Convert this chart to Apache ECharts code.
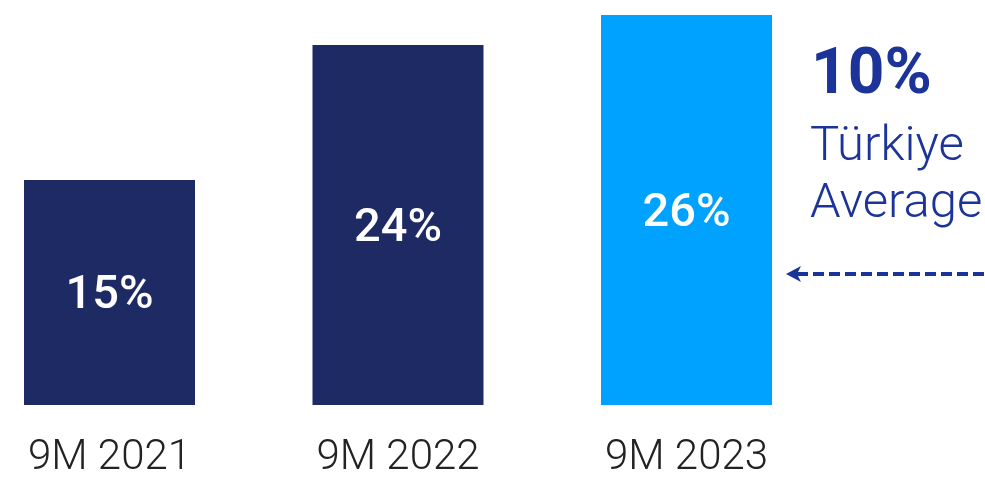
<!DOCTYPE html>
<html><head><meta charset="utf-8">
<script src="https://cdn.jsdelivr.net/npm/echarts@6/dist/echarts.min.js"></script>
<style>html,body{margin:0;padding:0;background:#fff}#c{width:985px;height:479px}</style>
</head><body><div id="c"></div>
<script>
const categories = ['9M 2021', '9M 2022', '9M 2023'];
const values = [15, 24, 26];
const barColors = ['#1e2a64', '#1e2a64', '#00a2ff'];
const avgValue = 10;
const avgLabel = ['Türkiye', 'Average'];

const chart = echarts.init(document.getElementById('c'), null, {renderer: 'canvas'});
const option = {
  animation: false,
  grid: {left: 109.5, right: 298.5, top: 15, bottom: 74, containLabel: false},
  xAxis: {
    type: 'category', data: categories, boundaryGap: false,
    axisLine: {show: false}, axisTick: {show: false}, splitLine: {show: false},
    axisLabel: {fontFamily: 'Roboto', fontWeight: 300, fontSize: 42, color: '#222', margin: 32}
  },
  yAxis: {type: 'value', min: 0, max: 26, show: false, splitLine: {show: false}},
  series: [{
    type: 'bar', barWidth: 171,
    data: values.map((v, i) => ({value: v, itemStyle: {color: barColors[i]}})),
    label: {show: true, position: 'inside', offset: [0, 4], formatter: '{c}%', color: '#fff',
      fontFamily: 'Roboto', fontWeight: 500, fontSize: 47}
  }],
  graphic: [
    {type: 'text', left: 811, top: 45, style: {text: avgValue + '%', fontFamily: 'Roboto', fontWeight: 'bold', fontSize: 64, fill: '#1c3499'}},
    {type: 'text', left: 810, top: 119, style: {text: avgLabel.join('\n'), fontFamily: 'Roboto', fontWeight: 300, fontSize: 49, lineHeight: 57, fill: '#1c3499'}},
    {type: 'line', shape: {x1: 797, y1: 274, x2: 985, y2: 274}, style: {stroke: '#1c3499', lineWidth: 4, lineDash: [11, 5]}},
    {type: 'line', shape: {x1: 795, y1: 274, x2: 808, y2: 274}, style: {stroke: '#1c3499', lineWidth: 4}},
    {type: 'polygon', shape: {points: [[786, 274], [801, 266], [797, 274], [801, 282]]}, style: {fill: '#1c3499'}}
  ]
};
chart.setOption(option);
</script></body></html>
